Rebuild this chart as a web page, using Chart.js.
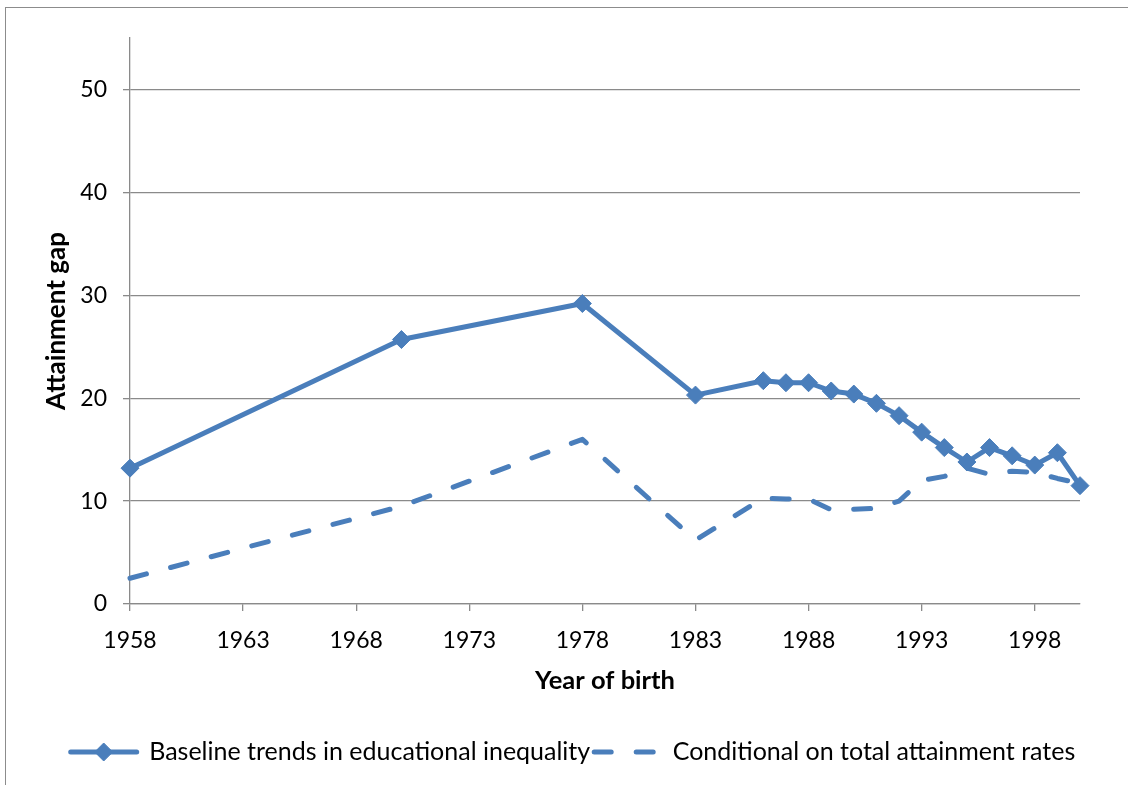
<!DOCTYPE html>
<html><head><meta charset="utf-8">
<script src="https://cdn.jsdelivr.net/npm/chart.js@4"></script>
<style>
html,body{margin:0;padding:0;background:#fff;overflow:hidden;}
#frame{position:absolute;left:5px;top:7px;width:1160px;height:820px;border:1.5px solid #8c8c8c;}
#wrap{position:absolute;left:0;top:0;width:1128px;height:785px;}
</style></head><body>
<div id="frame"></div>
<div id="wrap"><canvas id="c" width="1128" height="785"></canvas></div>
<script>
const years = [1958,1970,1978,1983,1986,1987,1988,1989,1990,1991,1992,1993,1994,1995,1996,1997,1998,1999,2000];
const baseline = [13.2,25.7,29.2,20.3,21.7,21.5,21.5,20.7,20.4,19.5,18.3,16.7,15.2,13.8,15.2,14.4,13.5,14.7,11.5];
const conditional = [2.5,9.5,16.0,6.2,10.3,10.2,10.2,9.15,9.2,9.3,10.0,12.0,12.4,13.2,12.6,12.9,12.8,12.2,11.7];
const xTicks = [1958,1963,1968,1973,1978,1983,1988,1993,1998];
const yTicks = [0,10,20,30,40,50];
const seriesNames = ['Baseline trends in educational inequality','Conditional on total attainment rates'];
const xTitle = 'Year of birth';
const yTitle = 'Attainment gap';

const BLUE = '#4A7EBB';
const GRID = '#8a8a8a';
const FONT = 'Lato';
const DASH = [17, 25];
const SAMPLE_W = 66;

const legendDiamond = {
  id: 'legendDiamond',
  afterDraw(chart) {
    const lg = chart.legend;
    if (!lg || !lg.legendHitBoxes || !lg.legendHitBoxes.length) return;
    const hb = lg.legendHitBoxes[0];
    const ctx = chart.ctx;
    ctx.save();
    ctx.fillStyle = BLUE; ctx.strokeStyle = BLUE; ctx.lineWidth = 1;
    ctx.setLineDash([]);
    Chart.helpers.drawPoint(ctx, {pointStyle: 'rectRot', radius: 9, borderWidth: 1, rotation: 0},
      hb.left + SAMPLE_W / 2, hb.top + hb.height / 2);
    ctx.restore();
  }
};

new Chart(document.getElementById('c'), {
  type: 'line',
  data: {
    datasets: [
      {
        label: seriesNames[0],
        data: years.map((y, i) => ({x: y, y: baseline[i]})),
        borderColor: BLUE, backgroundColor: BLUE,
        borderWidth: 5, pointStyle: 'rectRot', pointRadius: 9,
        pointBorderWidth: 1, pointBackgroundColor: BLUE, pointBorderColor: BLUE,
        tension: 0, borderJoinStyle: 'round', clip: false
      },
      {
        label: seriesNames[1],
        data: years.map((y, i) => ({x: y, y: conditional[i]})),
        borderColor: BLUE, backgroundColor: BLUE,
        borderWidth: 5, borderDash: DASH, borderCapStyle: 'round',
        borderJoinStyle: 'round', pointRadius: 0, tension: 0, clip: false
      }
    ]
  },
  options: {
    responsive: false,
    animation: false,
    devicePixelRatio: 1,
    layout: {padding: {left: 66, right: 48, top: 38, bottom: 10.5}},
    plugins: {
      tooltip: {enabled: false},
      legend: {
        position: 'bottom',
        labels: {
          usePointStyle: true, pointStyle: 'line', pointStyleWidth: SAMPLE_W, boxHeight: 10,
          padding: 4, color: '#000', font: {family: FONT, size: 25},
          generateLabels: chart => Chart.defaults.plugins.legend.labels.generateLabels(chart).map((it, i) => ({
            ...it, pointStyle: 'line', lineWidth: 5, strokeStyle: BLUE, fillStyle: BLUE,
            lineDash: i === 1 ? DASH : [], lineCap: 'round', lineDashOffset: 0
          }))
        }
      }
    },
    scales: {
      x: {
        type: 'linear', min: 1958, max: 2000,
        afterBuildTicks: s => { s.ticks = xTicks.map(v => ({value: v})); },
        afterFit: s => { s.height = 131.5; },
        grid: {display: true, drawOnChartArea: false, drawTicks: true, tickLength: 7, color: GRID, lineWidth: 1.3},
        border: {display: true, color: GRID, width: 1.3},
        ticks: {color: '#000', font: {family: FONT, size: 23}, padding: 16, maxRotation: 0, autoSkip: false,
          callback: v => String(v)},
        title: {display: true, text: xTitle, color: '#000', font: {family: FONT, size: 25.5, weight: 'bold'},
          padding: {top: 0, bottom: 39}}
      },
      y: {
        min: 0, max: 55,
        afterBuildTicks: s => { s.ticks = yTicks.map(v => ({value: v})); },
        afterFit: s => { s.width = 64; },
        grid: {display: true, drawOnChartArea: true, drawTicks: true, tickLength: 7, color: GRID, lineWidth: 1.3},
        border: {display: true, color: GRID, width: 1.3},
        ticks: {color: '#000', font: {family: FONT, size: 23}, padding: 16},
        title: {display: true, text: yTitle, color: '#000', font: {family: FONT, size: 26, weight: 'bold'},
          padding: {top: -25, bottom: 0}}
      }
    }
  },
  plugins: [legendDiamond]
});
</script>
</body></html>
